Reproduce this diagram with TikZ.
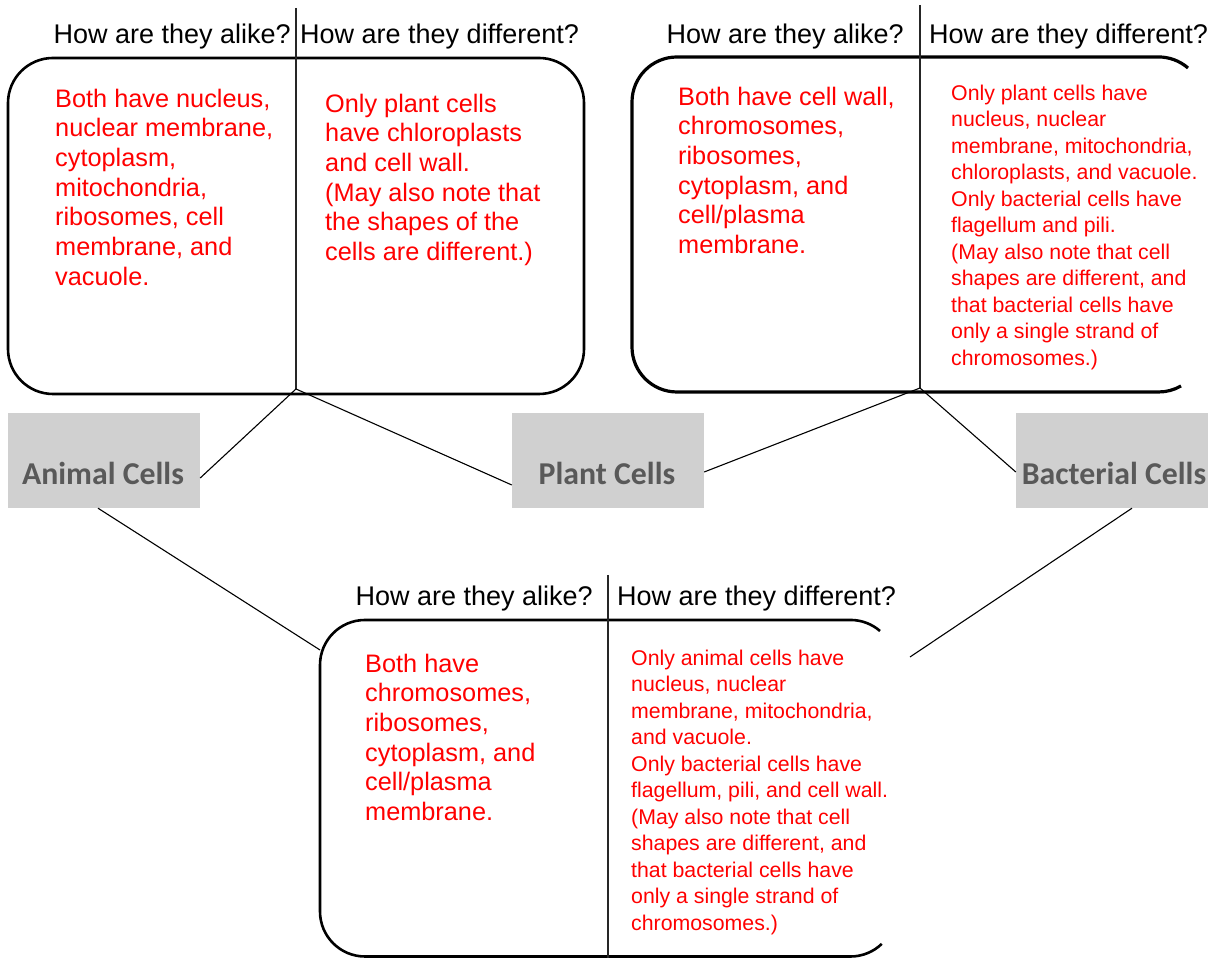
\documentclass[tikz,border=0pt]{standalone}
\usepackage{fontspec}
\setmainfont{Liberation Sans}
\newfontfamily\labelfont{Carlito}
\definecolor{cellgray}{RGB}{208,208,208}
\definecolor{labelgray}{RGB}{89,89,89}
\begin{document}
\begin{tikzpicture}[x=1pt,y=1pt,
  frame/.style={line width=2.6pt},
  divider/.style={line width=1.3pt, draw=black!85},
  link/.style={line width=1.1pt},
  head/.style={inner sep=0pt, font=\fontsize{27}{32}\selectfont},
  ans/.style={inner sep=0pt, anchor=north west, align=left, text=red,
    font=\fontsize{25.3}{29.7}\selectfont},
  anssmall/.style={ans, font=\fontsize{21.3}{26.5}\selectfont},
  cellbox/.style={fill=cellgray, minimum width=192pt, minimum height=95pt, inner sep=0pt},
  celltext/.style={anchor=base, inner sep=0pt, text=labelgray,
    font=\labelfont\bfseries\fontsize{31.8}{36}\selectfont}]
\useasboundingbox (0,0) rectangle (1213,958);

% ---- animal vs plant (top left) ----
\draw[frame, rounded corners=45pt] (8,564) rectangle (584,900);
\draw[divider] (296,950) -- (296,569) coordinate (tl);
\node[head, anchor=base east] (h1a) at (291,914) {How are they alike?};
\node[head, anchor=base west] (h1d) at (300,914) {How are they different?};
\node[ans] (a1) at (55,869.5) {Both have nucleus,\\nuclear membrane,\\cytoplasm,\\mitochondria,\\ribosomes, cell\\membrane, and\\vacuole.};
\node[ans] (d1) at (325,864.5) {Only plant cells\\have chloroplasts\\and cell wall.\\(May also note that\\the shapes of the\\cells are different.)};

% ---- plant vs bacterial (top right, right edge runs off the page) ----
\draw[frame, line width=3.2pt] (1188,890) arc[start angle=49, end angle=90, radius=45]
  -- (677,901) arc[start angle=90, end angle=180, radius=45]
  -- (632,611) arc[start angle=180, end angle=270, radius=45]
  -- (1158.5,566) arc[start angle=270, end angle=300, radius=45];
\draw[divider] (920,953) -- (920,570) coordinate (tr);
\node[head, anchor=base east] (h2a) at (904,914) {How are they alike?};
\node[head, anchor=base west] (h2d) at (929,914) {How are they different?};
\node[ans] (a2) at (678,871.5) {Both have cell wall,\\chromosomes,\\ribosomes,\\cytoplasm, and\\cell/plasma\\membrane.};
\node[anssmall] (d2) at (951,873.5) {Only plant cells have\\nucleus, nuclear\\membrane, mitochondria,\\chloroplasts, and vacuole.\\Only bacterial cells have\\flagellum and pili.\\(May also note that cell\\shapes are different, and\\that bacterial cells have\\only a single strand of\\chromosomes.)};

% ---- animal vs bacterial (bottom, right edge runs off the page) ----
\draw[frame] (880,327) arc[start angle=49, end angle=90, radius=45]
  -- (365,338) arc[start angle=90, end angle=180, radius=45]
  -- (320,46.5) arc[start angle=180, end angle=270, radius=45]
  -- (850.5,1.5) arc[start angle=270, end angle=314, radius=45];
\draw[divider] (608,383) -- (608,0);
\node[head, anchor=base east] (h3a) at (593,352) {How are they alike?};
\node[head, anchor=base west] (h3d) at (617,352) {How are they different?};
\node[ans] (a3) at (365,304.5) {Both have\\chromosomes,\\ribosomes,\\cytoplasm, and\\cell/plasma\\membrane.};
\node[anssmall] (d3) at (631,308.5) {Only animal cells have\\nucleus, nuclear\\membrane, mitochondria,\\and vacuole.\\Only bacterial cells have\\flagellum, pili, and cell wall.\\(May also note that cell\\shapes are different, and\\that bacterial cells have\\only a single strand of\\chromosomes.)};

% ---- the three cell types ----
\node[cellbox] (animal) at (104,497.5) {};
\node[celltext] at (103,473) {Animal Cells};
\node[cellbox] (plant) at (608,497.5) {};
\node[celltext] at (607,473) {Plant Cells};
\node[cellbox] (bact) at (1112,497.5) {};
\node[celltext] at (1114,473) {Bacterial Cells};

% ---- connectors ----
\coordinate (bl) at (320,308);
\coordinate (br) at (910,301);
\draw[link] (tl) -- ([yshift=-17.5pt]animal.east);
\draw[link] (tl) -- ([yshift=-24.5pt]plant.west);
\draw[link] (tr) -- ([yshift=-11.5pt]plant.east);
\draw[link] (tr) -- ([yshift=-11.5pt]bact.west);
\draw[link] ([xshift=-6pt]animal.south) -- (bl);
\draw[link] ([xshift=20pt]bact.south) -- (br);
\end{tikzpicture}
\end{document}
